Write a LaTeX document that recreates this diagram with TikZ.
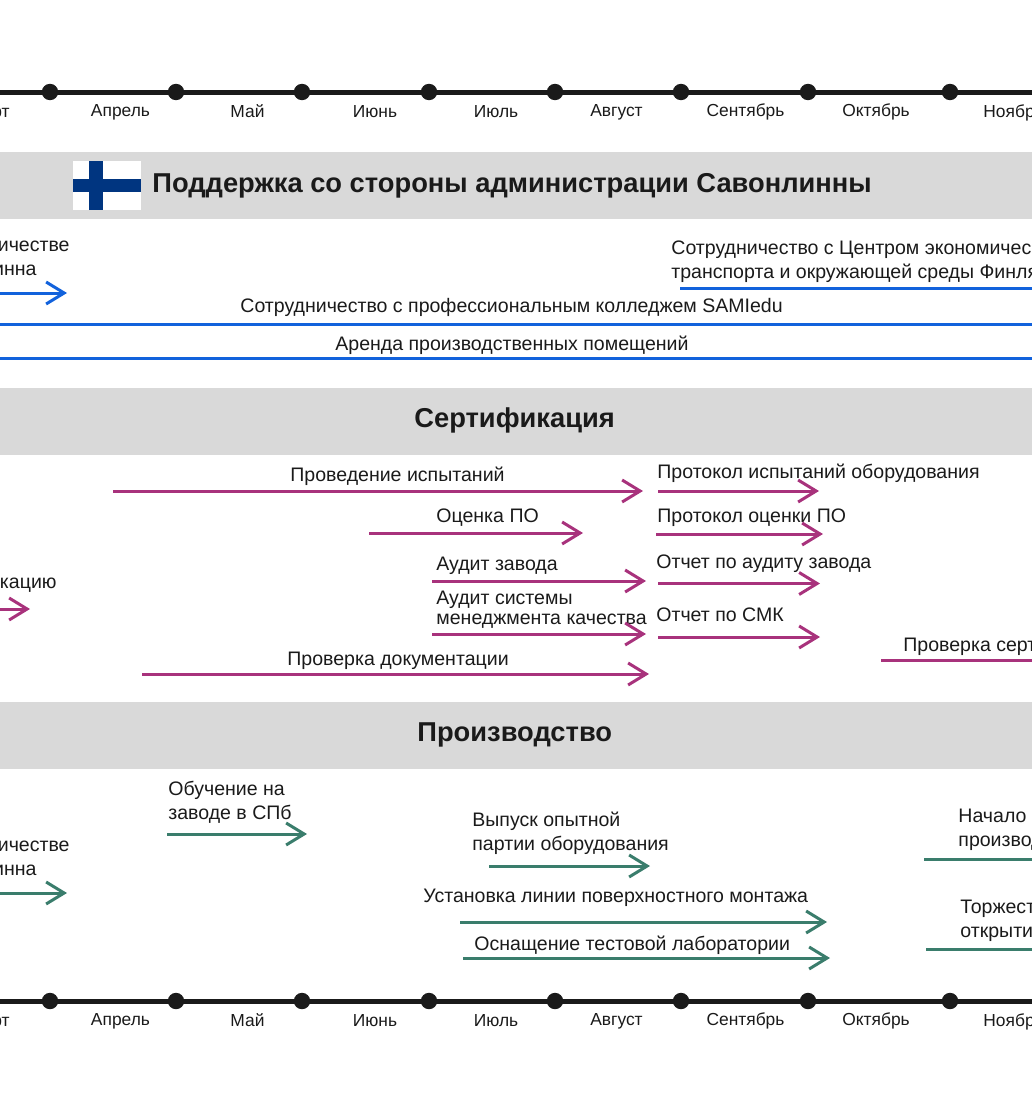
\documentclass[tikz,border=0pt]{standalone}
\usepackage{fontspec}
\setmainfont{Liberation Sans}
\usetikzlibrary{arrows.meta}
\definecolor{bandgray}{HTML}{D9D9D9}
\definecolor{inkblack}{HTML}{1A1A1A}
\definecolor{flagblue}{HTML}{003580}
\definecolor{supportblue}{HTML}{1262DC}
\definecolor{certpurple}{HTML}{A8327C}
\definecolor{prodgreen}{HTML}{3A7D6C}
\begin{document}
\begin{tikzpicture}[x=0.5pt,y=-0.5pt]
    \newcommand{\bandheight}[0]{33.5pt}
    \newcommand{\bodysize}[0]{\fontsize{9.77}{12}\selectfont}

    \tikzstyle{timeline}=[line width=2.5pt,draw=inkblack]
    \tikzstyle{dot}=[circle,fill=inkblack,inner sep=0pt,minimum size=8.2pt]
    \tikzstyle{month}=[font=\fontsize{8.7}{12}\selectfont,text=inkblack,inner sep=0pt,anchor=base]
    \tikzstyle{band}=[rectangle,fill=bandgray,minimum width=516pt,minimum height=\bandheight,inner sep=0pt]
    \tikzstyle{title}=[font=\fontsize{13.65}{15}\selectfont\bfseries,text=inkblack,inner sep=0pt,anchor=base west]
    \tikzstyle{task}=[font=\bodysize,text=inkblack,inner sep=0pt,anchor=base west]
    \tikzstyle{taskend}=[font=\bodysize,text=inkblack,inner sep=0pt,anchor=base east]
    \tikzstyle{twolines}=[font=\bodysize,text=inkblack,inner sep=0pt,anchor=west,align=left]
    \tikzstyle{bluebar}=[line width=1.5pt,draw=supportblue]
    \tikzstyle{bluearrow}=[bluebar,-{Straight Barb[length=9pt,width=11pt]}]
    \tikzstyle{purplebar}=[line width=1.5pt,draw=certpurple]
    \tikzstyle{purplearrow}=[purplebar,-{Straight Barb[length=9pt,width=11pt]}]
    \tikzstyle{greenbar}=[line width=1.5pt,draw=prodgreen]
    \tikzstyle{greenarrow}=[greenbar,-{Straight Barb[length=9pt,width=11pt]}]

    \useasboundingbox (0,0) rectangle (1032,1119);
    \clip (0,0) rectangle (1032,1119);

    % top time axis
    \coordinate (topleft) at (0,92.5);
    \coordinate (topright) at (1032,92.5);
    \draw[timeline] (topleft) -- (topright);
    \node[dot] (topapr) at (50,92) {};
    \node[dot] (topmay) at (176,92) {};
    \node[dot] (topjun) at (302,92) {};
    \node[dot] (topjul) at (429,92) {};
    \node[dot] (topaug) at (555,92) {};
    \node[dot] (topsep) at (681,92) {};
    \node[dot] (topoct) at (808,92) {};
    \node[dot] (topnov) at (950,92) {};
    \node[month,anchor=base east] (toplabmar) at (10,117) {рт};
    \node[month] (toplabapr) at (120.5,116) {Апрель};
    \node[month] (toplabmay) at (247.5,117) {Май};
    \node[month] (toplabjun) at (375,117) {Июнь};
    \node[month] (toplabjul) at (496,117) {Июль};
    \node[month] (toplabaug) at (616.5,116) {Август};
    \node[month] (toplabsep) at (745.5,116) {Сентябрь};
    \node[month] (toplaboct) at (876,116) {Октябрь};
    \node[month,anchor=base west] (toplabnov) at (983,117) {Ноябр};

    % administration support
    \node[band] (supportband) at (516,185.5) {};
    \node[rectangle,fill=white,minimum width=34pt,minimum height=24.5pt,inner sep=0pt] (flag) at (106.5,185.5) {};
    \fill[flagblue] (89,161) rectangle (102.5,210);
    \fill[flagblue] (72.5,179) rectangle (140.5,192);
    \node[title] (supporttitle) at (152,192) {Поддержка со стороны администрации Савонлинны};

    \node[taskend] (citytop) at (70,251) {ичестве};
    \node[taskend] (citybottom) at (37,275) {инна};
    \draw[bluearrow] (0,293) coordinate (citystart) -- (67,293) coordinate (cityend);
    \node[twolines] (centretext) at (671,262) {Сотрудничество с Центром экономичес\\транспорта и окружающей среды Финля};
    \draw[bluebar] (680,288) coordinate (centrestart) -- (1032,288) coordinate (centreend);
    \node[task] (collegetext) at (240,312) {Сотрудничество с профессиональным колледжем SAMIedu};
    \draw[bluebar] (0,324) coordinate (collegestart) -- (1032,324) coordinate (collegeend);
    \node[task] (renttext) at (335,350) {Аренда производственных помещений};
    \draw[bluebar] (0,358) coordinate (rentstart) -- (1032,358) coordinate (rentend);

    % certification
    \node[band] (certband) at (516,421.5) {};
    \node[title] (certtitle) at (414,427.5) {Сертификация};

    \node[task] (teststext) at (290,481) {Проведение испытаний};
    \draw[purplearrow] (113,491) coordinate (testsstart) -- (643,491) coordinate (testsend);
    \node[task] (softtext) at (436,522) {Оценка ПО};
    \draw[purplearrow] (369,533) coordinate (softstart) -- (583,533) coordinate (softend);
    \node[task] (audittext) at (436,570) {Аудит завода};
    \draw[purplearrow] (432,581) coordinate (auditstart) -- (646,581) coordinate (auditend);
    \node[twolines,font=\fontsize{9.77}{10}\selectfont] (qmstext) at (436,610) {Аудит системы\\менеджмента качества};
    \draw[purplearrow] (432,634) coordinate (qmsstart) -- (646,634) coordinate (qmsend);
    \node[task] (docstext) at (287,665) {Проверка документации};
    \draw[purplearrow] (142,674) coordinate (docsstart) -- (649,674) coordinate (docsend);
    \node[taskend] (applytext) at (57,588) {кацию};
    \draw[purplearrow] (0,609) coordinate (applystart) -- (30,609) coordinate (applyend);

    \node[task] (testreport) at (657,478) {Протокол испытаний оборудования};
    \draw[purplearrow] (658,491) coordinate (testreportstart) -- (819,491) coordinate (testreportend);
    \node[task] (softreport) at (657,522) {Протокол оценки ПО};
    \draw[purplearrow] (656,534) coordinate (softreportstart) -- (823,534) coordinate (softreportend);
    \node[task] (auditreport) at (656,568) {Отчет по аудиту завода};
    \draw[purplearrow] (658,583.5) coordinate (auditreportstart) -- (820,583.5) coordinate (auditreportend);
    \node[task] (qmsreport) at (656,621) {Отчет по СМК};
    \draw[purplearrow] (658,637) coordinate (qmsreportstart) -- (820,637) coordinate (qmsreportend);
    \node[task] (checktext) at (903,651) {Проверка серт};
    \draw[purplebar] (881,660) coordinate (checkstart) -- (1032,660) coordinate (checkend);

    % production
    \node[band] (prodband) at (516,735.5) {};
    \node[title] (prodtitle) at (417,741.5) {Производство};

    \node[taskend] (plantop) at (70,851) {ичестве};
    \node[taskend] (planbottom) at (37,875) {инна};
    \draw[greenarrow] (0,893) coordinate (planstart) -- (67,893) coordinate (planend);
    \node[twolines] (trainingtext) at (168,802) {Обучение на\\заводе в СПб};
    \draw[greenarrow] (167,834) coordinate (trainingstart) -- (307,834) coordinate (trainingend);
    \node[twolines] (pilottext) at (472,833) {Выпуск опытной\\партии оборудования};
    \draw[greenarrow] (489,866) coordinate (pilotstart) -- (650,866) coordinate (pilotend);
    \node[task] (smttext) at (423,902) {Установка линии поверхностного монтажа};
    \draw[greenarrow] (460,922) coordinate (smtstart) -- (827,922) coordinate (smtend);
    \node[task] (labtext) at (474,950) {Оснащение тестовой лаборатории};
    \draw[greenarrow] (463,958) coordinate (labstart) -- (830,958) coordinate (labend);
    \node[twolines] (seriestext) at (958,830) {Начало\\производ};
    \draw[greenbar] (924,859) coordinate (seriesstart) -- (1032,859) coordinate (seriesend);
    \node[twolines] (openingtext) at (960,921) {Торжест\\открыти};
    \draw[greenbar] (926,949) coordinate (openingstart) -- (1032,949) coordinate (openingend);

    % bottom time axis
    \coordinate (bottomleft) at (0,1001.5);
    \coordinate (bottomright) at (1032,1001.5);
    \draw[timeline] (bottomleft) -- (bottomright);
    \node[dot] (botapr) at (50,1001) {};
    \node[dot] (botmay) at (176,1001) {};
    \node[dot] (botjun) at (302,1001) {};
    \node[dot] (botjul) at (429,1001) {};
    \node[dot] (botaug) at (555,1001) {};
    \node[dot] (botsep) at (681,1001) {};
    \node[dot] (botoct) at (808,1001) {};
    \node[dot] (botnov) at (950,1001) {};
    \node[month,anchor=base east] (botlabmar) at (10,1026) {рт};
    \node[month] (botlabapr) at (120.5,1025) {Апрель};
    \node[month] (botlabmay) at (247.5,1026) {Май};
    \node[month] (botlabjun) at (375,1026) {Июнь};
    \node[month] (botlabjul) at (496,1026) {Июль};
    \node[month] (botlabaug) at (616.5,1025) {Август};
    \node[month] (botlabsep) at (745.5,1025) {Сентябрь};
    \node[month] (botlaboct) at (876,1025) {Октябрь};
    \node[month,anchor=base west] (botlabnov) at (983,1026) {Ноябр};
\end{tikzpicture}
\end{document}
